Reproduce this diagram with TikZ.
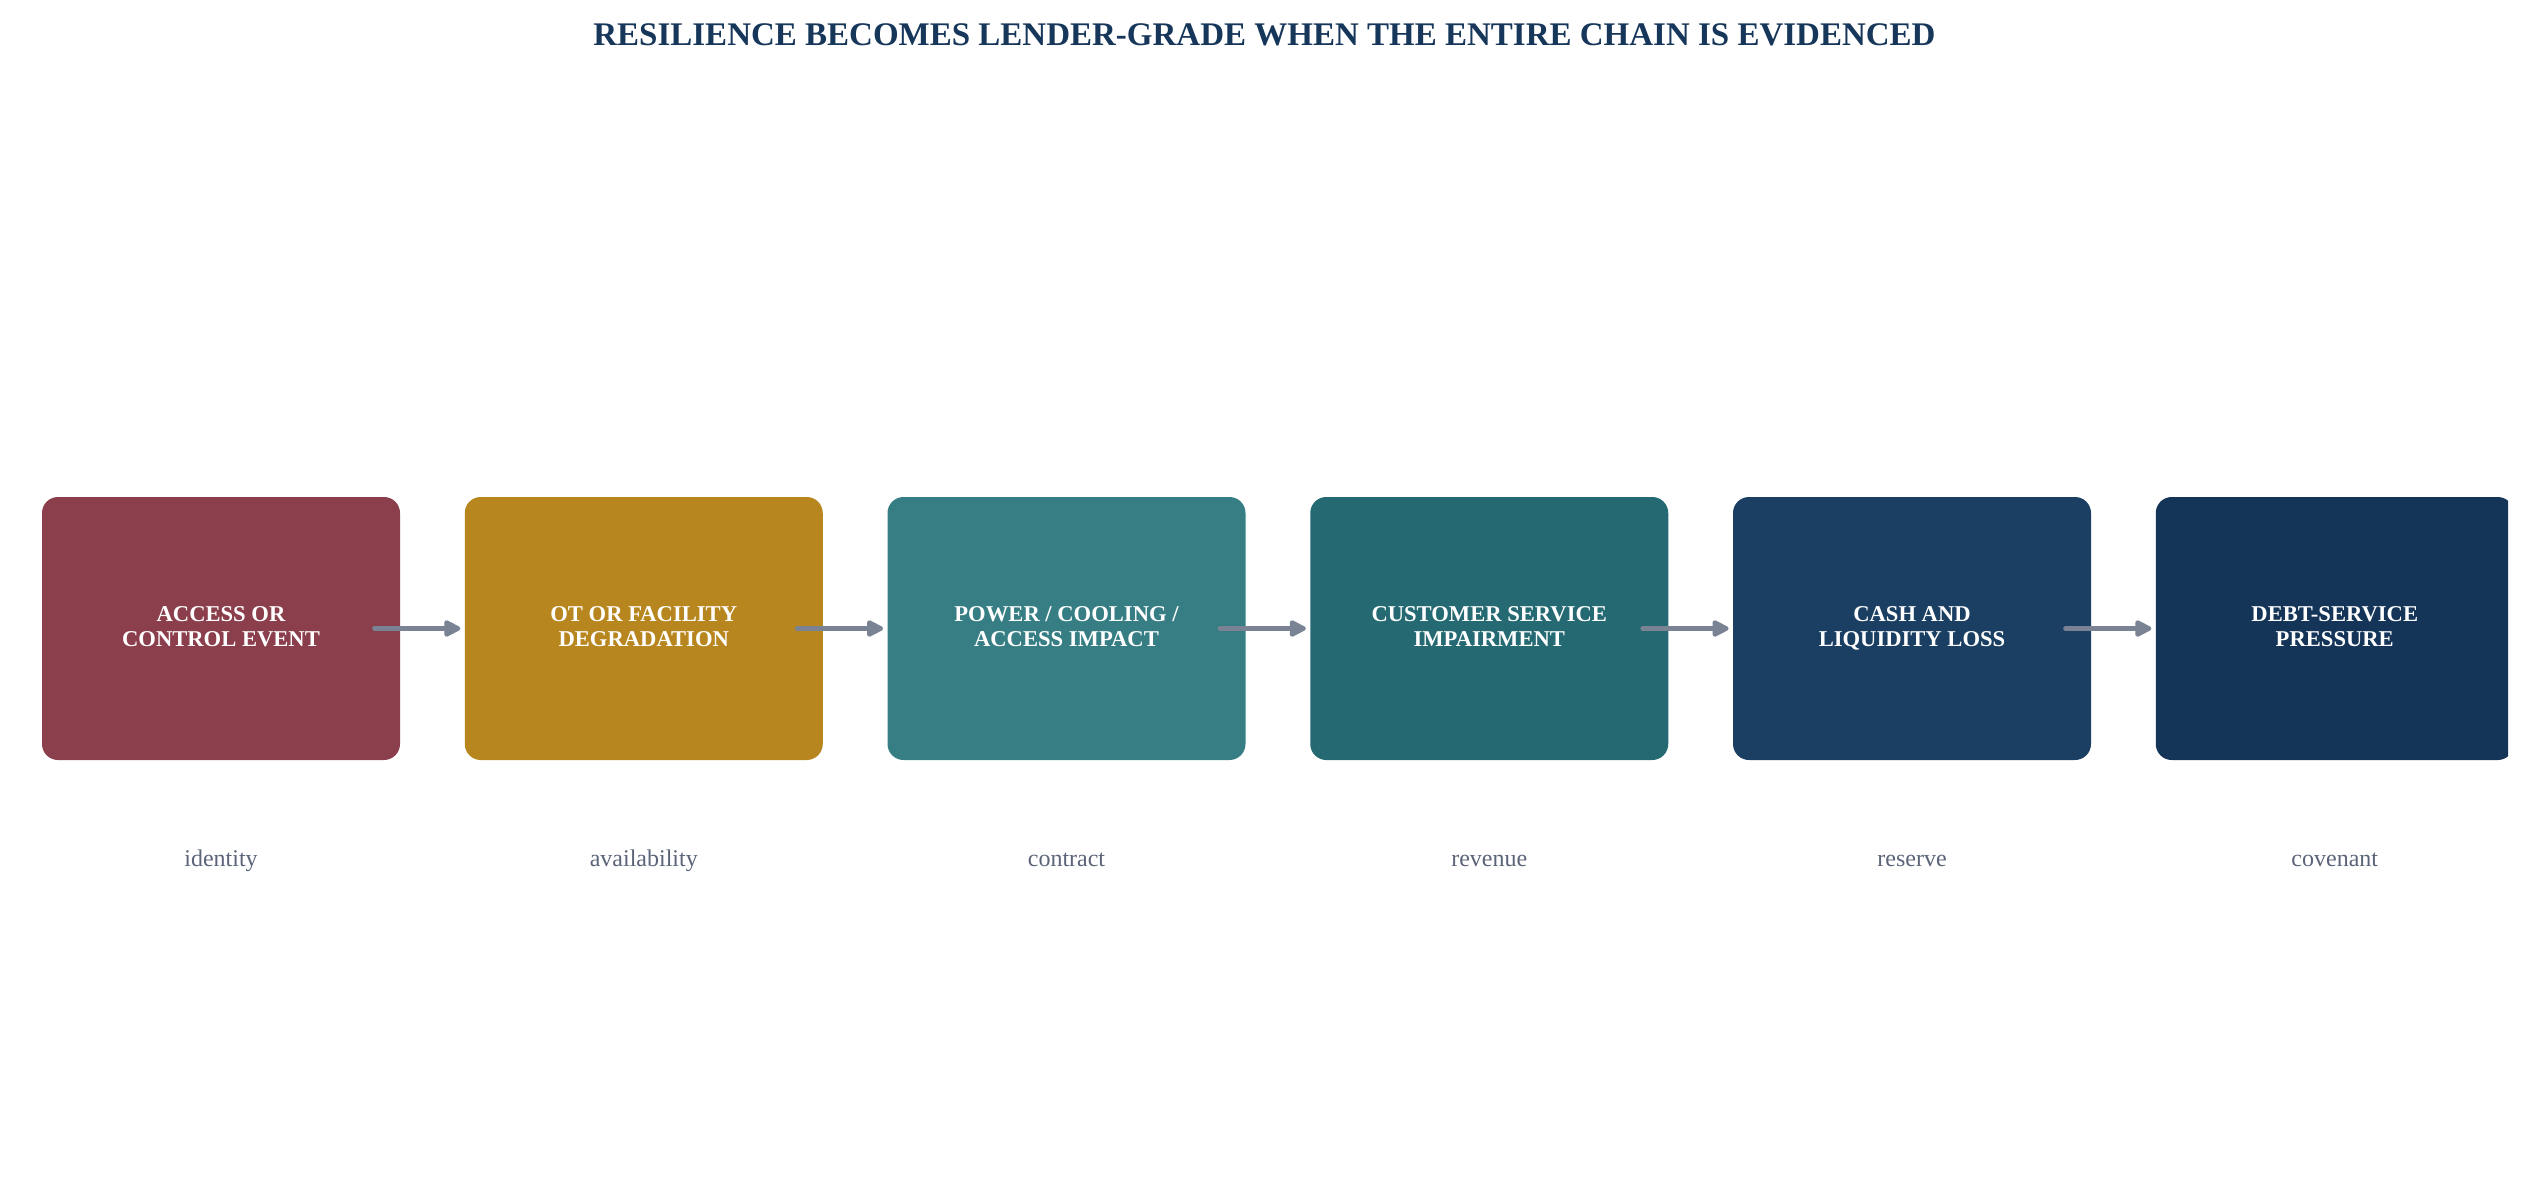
\documentclass[tikz,border=0pt]{standalone}
\usepackage{fontspec}
\setmainfont{Liberation Serif}
\usetikzlibrary{arrows.meta}
\definecolor{cA}{HTML}{8B3E4B}
\definecolor{cB}{HTML}{B8861F}
\definecolor{cC}{HTML}{367E84}
\definecolor{cD}{HTML}{256A73}
\definecolor{cE}{HTML}{1B3F63}
\definecolor{cF}{HTML}{143558}
\definecolor{arrgray}{HTML}{7A8393}
\definecolor{titlecol}{HTML}{16365A}
\definecolor{labcol}{HTML}{5B6478}
\tikzset{
  stagebox/.style={rounded corners=8pt, minimum width=179pt, minimum height=131.5pt,
    inner sep=0pt, text=white, align=center,
    font=\fontsize{11.3}{12.5}\selectfont\bfseries},
  chainarrow/.style={draw=arrgray, line width=2.2pt, line cap=round,
    -{Triangle[length=9.5pt,width=9pt,round]}},
  sublabel/.style={text=labcol, font=\fontsize{12}{14}\selectfont, anchor=base},
}
\begin{document}
\begin{tikzpicture}[x=0.5pt,y=-0.5pt]
\useasboundingbox (0,0) rectangle (2529,1189);
\node[anchor=base, text=titlecol, font=\fontsize{16.5}{19}\selectfont\bfseries] (title) at (1264.5,45)
  {RESILIENCE BECOMES LENDER-GRADE WHEN THE ENTIRE CHAIN IS EVIDENCED};
\node[stagebox, fill=cA] (b1) at (221,628.5) {ACCESS OR\strut\\CONTROL EVENT\strut};
\node[stagebox, fill=cB] (b2) at (643.75,628.5) {OT OR FACILITY\strut\\DEGRADATION\strut};
\node[stagebox, fill=cC] (b3) at (1066.5,628.5) {POWER / COOLING /\strut\\ACCESS IMPACT\strut};
\node[stagebox, fill=cD] (b4) at (1489.25,628.5) {CUSTOMER SERVICE\strut\\IMPAIRMENT\strut};
\node[stagebox, fill=cE] (b5) at (1912,628.5) {CASH AND\strut\\LIQUIDITY LOSS\strut};
\begin{scope}
\clip (0,0) rectangle (2508,1189);
\node[stagebox, fill=cF] (b6) at (2334.75,628.5) {DEBT-SERVICE\strut\\PRESSURE\strut};
\end{scope}
\foreach \a/\b in {b1/b2,b2/b3,b3/b4,b4/b5,b5/b6}
  \draw[chainarrow] ([xshift=-13pt]\a.east) -- ([xshift=-2pt]\b.west);
\node[sublabel] (l1) at (221,866) {identity};
\node[sublabel] (l2) at (643.75,866) {availability};
\node[sublabel] (l3) at (1066.5,866) {contract};
\node[sublabel] (l4) at (1489.25,866) {revenue};
\node[sublabel] (l5) at (1912,866) {reserve};
\node[sublabel] (l6) at (2334.75,866) {covenant};
\end{tikzpicture}
\end{document}
